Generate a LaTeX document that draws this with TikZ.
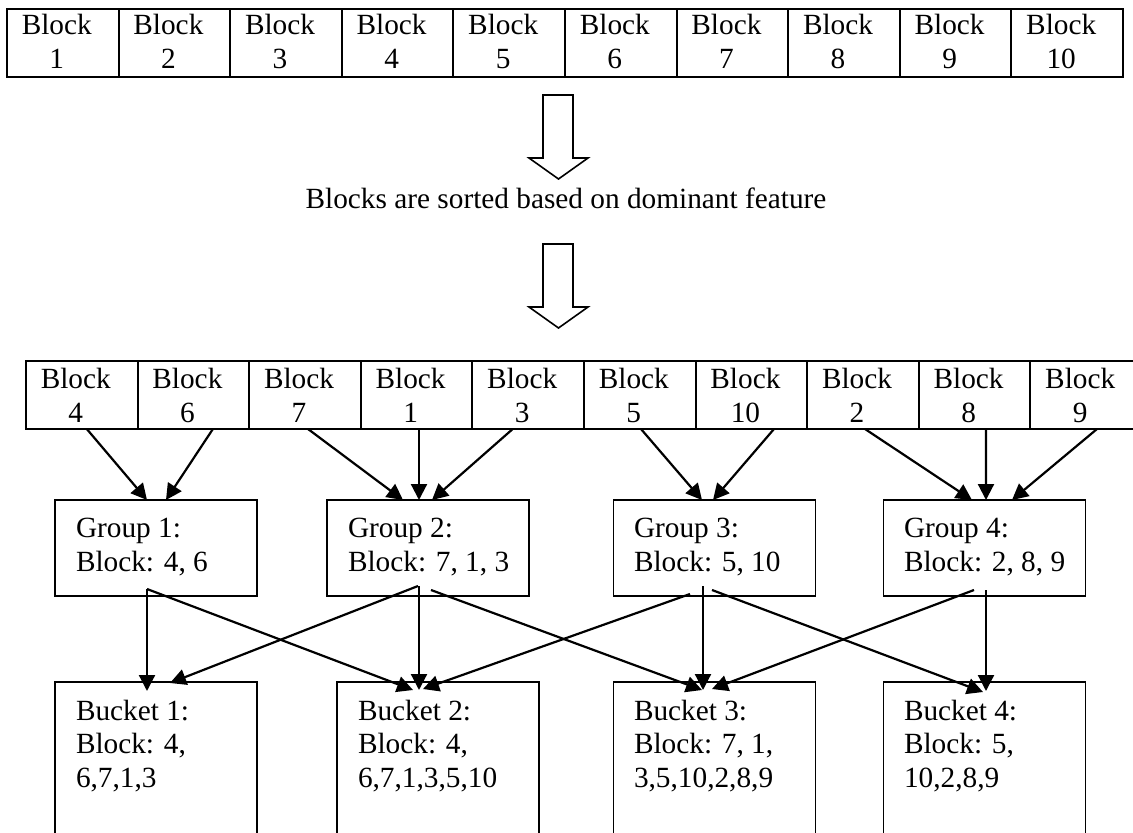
\documentclass[tikz,border=0pt]{standalone}
\usepackage{fontspec}
\setmainfont{Liberation Serif}
\usetikzlibrary{arrows.meta,calc}
\begin{document}
\begin{tikzpicture}[x=1pt,y=-1pt,
  every node/.style={font=\fontsize{29.3}{33.5}\selectfont, inner sep=0pt, outer sep=0pt},
  cell/.style={draw, line width=2.1pt, minimum width=111.6pt, minimum height=68pt},
  box/.style={draw, line width=1.6pt, minimum width=202pt, minimum height=96pt},
  bucket/.style={draw, line width=1.6pt, minimum width=202pt, minimum height=220pt},
  celltext/.style={align=center, anchor=base},
  boxtext/.style={align=left, anchor=base west},
  arr/.style={line width=2.2pt, -{Triangle[length=16pt,width=16pt]}},
  hollow/.style={draw, line width=1.6pt, fill=white, line join=miter}]
\useasboundingbox (0,0) rectangle (1133,833);
\clip (0,0) rectangle (1133,833);

% top row
\foreach \i in {1,...,10} {
  \node[cell] (t\i) at ({7+111.6*(\i-0.5)}, 43) {};
  \node[celltext] (tl\i) at ($(t\i.center)+(-6,25)$) {Block\\\i};
}

% hollow arrows
\draw[hollow] (543,95) -- (573,95) -- (573,158) -- (588,158) -- (558.5,179) -- (529,158) -- (543,158) -- cycle;
\node[anchor=base] (sorttxt) at (566,208) {Blocks are sorted based on dominant feature};
\draw[hollow] (543,244) -- (573,244) -- (573,307) -- (588,307) -- (558.5,328) -- (529,307) -- (543,307) -- cycle;

% second row
\foreach \lab [count=\i] in {4,6,7,1,3,5,10,2,8,9} {
  \node[cell] (r\i) at ({26+111.6*(\i-0.5)}, 395) {};
  \node[celltext] (rl\i) at ($(r\i.center)+(-6,27)$) {Block\\\lab};
}

% groups
\node[box] (g1) at (156,548) {};
\node[boxtext] (g1t) at (76,571) {Group 1:\\Block: 4, 6};
\node[box] (g2) at (428,548) {};
\node[boxtext] (g2t) at (348,571) {Group 2:\\Block: 7, 1, 3};
\node[box] (g3) at (714.5,548) {};
\node[boxtext] (g3t) at (634,571) {Group 3:\\Block: 5, 10};
\node[box] (g4) at (984.5,548) {};
\node[boxtext] (g4t) at (904,571) {Group 4:\\Block: 2, 8, 9};

% buckets
\node[bucket] (b1) at (156,792) {};
\node[boxtext] (b1t) at (76,787) {Bucket 1:\\Block: 4,\\6,7,1,3};
\node[bucket] (b2) at (438,792) {};
\node[boxtext] (b2t) at (358,787) {Bucket 2:\\Block: 4,\\6,7,1,3,5,10};
\node[bucket] (b3) at (714.5,792) {};
\node[boxtext] (b3t) at (634,787) {Bucket 3:\\Block: 7, 1,\\3,5,10,2,8,9};
\node[bucket] (b4) at (984.5,792) {};
\node[boxtext] (b4t) at (904,787) {Bucket 4:\\Block: 5,\\10,2,8,9};

% row -> groups
\draw[arr] ([xshift=5pt]r1.south) -- ([xshift=-9pt]g1.north);
\draw[arr] ([xshift=19.5pt]r2.south) -- ([xshift=10pt]g1.north);
\draw[arr] ([xshift=3pt]r3.south) -- ([xshift=-25pt]g2.north);
\draw[arr] ([xshift=2.4pt]r4.south) -- ([xshift=-9pt]g2.north);
\draw[arr] ([xshift=-15.5pt]r5.south) -- ([xshift=4pt]g2.north);
\draw[arr] ([xshift=1.2pt]r6.south) -- ([xshift=-12.5pt]g3.north);
\draw[arr] ([xshift=22.6pt]r7.south) -- ([xshift=-1.5pt]g3.north);
\draw[arr] ([xshift=2pt]r8.south) -- ([xshift=-12.5pt]g4.north);
\draw[arr] ([xshift=11.4pt]r9.south) -- ([xshift=1.5pt]g4.north);
\draw[arr] ([xshift=10.8pt]r10.south) -- ([xshift=27.5pt]g4.north);

% groups -> buckets
\draw[arr] ([xshift=-9pt,yshift=7pt]g1.south) -- ([xshift=-9pt,yshift=-9pt]b1.north);
\draw[arr] ([xshift=-9pt,yshift=7pt]g1.south) -- ([xshift=-25pt,yshift=-8pt]b2.north);
\draw[arr] ([xshift=-9pt,yshift=10pt]g2.south) -- ([xshift=-19pt,yshift=-8pt]b2.north);
\draw[arr] ([xshift=-10pt,yshift=10pt]g2.south) -- ([xshift=14pt,yshift=-1pt]b1.north);
\draw[arr] ([xshift=3pt,yshift=6pt]g2.south) -- ([xshift=-12.5pt,yshift=-8pt]b3.north);
\draw[arr] ([xshift=-11.5pt,yshift=10pt]g3.south) -- ([xshift=-11.5pt,yshift=-8pt]b3.north);
\draw[arr] ([xshift=-24.5pt,yshift=2pt]g3.south) -- ([xshift=-15pt,yshift=-7pt]b2.north);
\draw[arr] ([xshift=-2.5pt,yshift=6pt]g3.south) -- ([xshift=-1.5pt,yshift=-10pt]b4.north);
\draw[arr] ([xshift=1.5pt,yshift=6pt]g4.south) -- ([xshift=1.5pt,yshift=-9pt]b4.north);
\draw[arr] ([xshift=-10.5pt,yshift=6pt]g4.south) -- ([xshift=-2.5pt,yshift=-7pt]b3.north);
\end{tikzpicture}
\end{document}
